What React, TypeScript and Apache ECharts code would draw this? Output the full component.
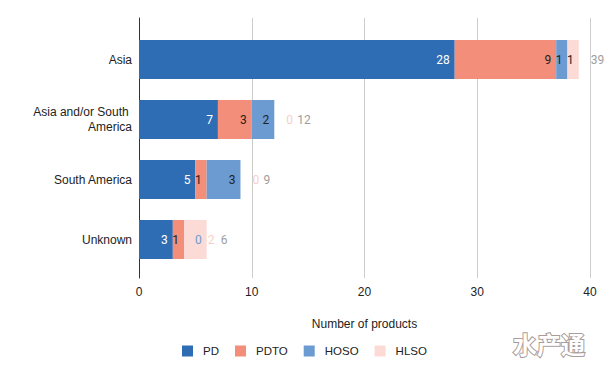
import React, { useEffect, useRef } from "react";
import * as echarts from "echarts";

const categories = ["Asia", "Asia and/or South America", "South America", "Unknown"];
const seriesNames = ["PD", "PDTO", "HOSO", "HLSO"];
const pd = [28, 7, 5, 3];
const pdto = [9, 3, 1, 1];
const hoso = [1, 2, 3, 0];
const hlso = [1, 0, 0, 2];
const totals = [39, 12, 9, 6];
const xMin = 0;
const xMax = 40;
const xInterval = 10;
const xTitle = "Number of products";
const watermark = "水产通";

const colors = ["#2e6db4", "#f28e79", "#6c9bd2", "#fcdad5"];
const labelColors = ["#ffffff", "#222222", "#222222", "#222222"];
const faintPink = "#f8cfc8";
// per-item label placement (style only)
const labelOverrides: Record<string, any> = {
  "2-3": { position: "right", distance: 11, color: "#6c9bd2" },
  "3-1": { position: "right", distance: 12, color: faintPink },
  "3-2": { position: "right", distance: 12, color: faintPink },
  "3-3": { position: "right", distance: 1, color: faintPink },
};
const totalDistances = [12, 23, 23, 14];

export default function App() {
  const ref = useRef<HTMLDivElement>(null);
  useEffect(() => {
    if (!ref.current) return;
    const chart = echarts.init(ref.current, null, { renderer: "svg" });
    const values = [pd, pdto, hoso, hlso];
    const valueFont = "Roboto";
    const series: any[] = values.map((arr, si) => ({
      name: seriesNames[si],
      type: "bar",
      stack: "total",
      xAxisIndex: 1,
      yAxisIndex: 1,
      barWidth: 39,
      barGap: "-100%",
      itemStyle: { color: colors[si] },
      label: {
        show: true,
        position: "insideRight",
        distance: 5,
        color: labelColors[si],
        fontFamily: valueFont,
        fontSize: 12,
      },
      data: arr.map((v, i) => {
        const o = labelOverrides[`${si}-${i}`];
        return o ? { value: v, label: { ...o } } : { value: v };
      }),
    }));
    series.push({
      name: "Total",
      type: "bar",
      xAxisIndex: 1,
      yAxisIndex: 1,
      barWidth: 39,
      barGap: "-100%",
      silent: true,
      itemStyle: { color: "rgba(0,0,0,0)" },
      label: {
        show: true,
        position: "right",
        color: "#9e9e9e",
        fontFamily: valueFont,
        fontSize: 12,
      },
      data: totals.map((v, i) => ({ value: v, label: { distance: totalDistances[i] } })),
      z: 1,
    });

    chart.setOption({
      animation: false,
      textStyle: { fontFamily: "Liberation Sans" },
      grid: [
        { left: 139, right: 19, top: 18, height: 260 },
        { left: 139, right: 19, top: 29.5, height: 240 },
      ],
      xAxis: [
        {
          type: "value",
          gridIndex: 0,
          min: xMin,
          max: xMax,
          interval: xInterval,
          axisLine: { show: false },
          axisTick: { show: false },
          splitLine: { show: true, lineStyle: { color: "#cccccc", width: 1 } },
          axisLabel: { color: "#222", fontSize: 12, margin: 8, fontFamily: "Liberation Sans" },
          name: xTitle,
          nameLocation: "middle",
          nameGap: 40,
          nameTextStyle: { color: "#222", fontSize: 12, fontFamily: "Liberation Sans" },
        },
        {
          type: "value",
          gridIndex: 1,
          min: xMin,
          max: xMax,
          interval: xInterval,
          show: false,
        },
      ],
      yAxis: [
        {
          type: "value",
          gridIndex: 0,
          min: 0,
          max: 1,
          axisLine: { show: true, lineStyle: { color: "#333", width: 1 } },
          axisTick: { show: false },
          axisLabel: { show: false },
          splitLine: { show: false },
        },
        {
          type: "category",
          gridIndex: 1,
          inverse: true,
          data: categories,
          axisLine: { show: false },
          axisTick: { show: false },
          splitLine: { show: false },
          axisLabel: {
            color: "#222",
            fontSize: 12,
            margin: 7,
            width: 120,
            overflow: "break",
            lineHeight: 14.5,
            fontFamily: "Liberation Sans",
          },
        },
      ],
      legend: {
        data: seriesNames,
        left: 182,
        top: 345,
        padding: 0,
        icon: "rect",
        itemWidth: 11,
        itemHeight: 11,
        itemGap: 16,
        textStyle: { color: "#222", fontSize: 11.5, fontFamily: "Liberation Sans", padding: [0, 0, 0, 5] },
      },
      graphic: [
        {
          type: "text",
          left: 512,
          top: 330,
          style: {
            text: watermark,
            font: 'bold 24px "Noto Sans CJK SC"',
            fill: "#ffffff",
            stroke: "#a89c9c",
            lineWidth: 2,
          },
        },
      ],
      series,
    });
    return () => chart.dispose();
  }, []);
  return (
    <div
      ref={ref}
      style={{ position: "fixed", left: 0, top: 0, width: 609, height: 376, background: "#fff" }}
    />
  );
}
